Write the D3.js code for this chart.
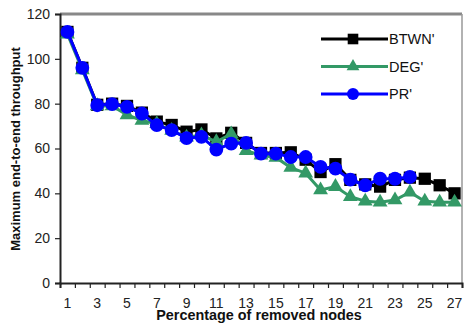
<!DOCTYPE html>
<html>
<head>
<meta charset="utf-8">
<script src="https://cdn.jsdelivr.net/npm/d3@7"></script>
<style>
  body { margin: 0; background: #fff; }
  svg { display: block; font-family: "Liberation Sans", Arial, sans-serif; }
</style>
</head>
<body>
<svg width="464" height="323"></svg>
<script>
// categories (percentage of removed nodes)
var categories = d3.range(1, 28);

// series values
var btwnValues = [112, 96, 79.5, 80, 79, 76, 72, 70.5, 67.5, 68.5, 64.5, 67, 62.5, 58, 58, 58.3, 55, 49.5, 53, 46, 44, 43, 46, 47, 46.5, 43.6, 40];
var degValues  = [111, 95, 79, 79, 75, 72.5, 71, 68, 65, 66, 63, 66.5, 59, 57, 56, 51.5, 49, 41.5, 43, 38.5, 36.5, 36, 37, 40.5, 36.5, 36, 36];
var prValues   = [112, 96, 79.3, 79.8, 78.6, 75.6, 70.4, 68.2, 64.6, 65.2, 59.5, 62.2, 62.5, 57.7, 57.7, 56.2, 56.2, 51.8, 51, 46.1, 43.6, 46.5, 46.5, 47.3];

var yTicks = [0, 20, 40, 60, 80, 100, 120];
var seriesNames = ["BTWN'", "DEG'", "PR'"];

var svg = d3.select("svg");
var plotLeft = 60, plotRight = 462, plotTop = 14, plotBottom = 283;

var x = d3.scaleBand().domain(categories).range([plotLeft, plotRight]);
var xEdge = d3.scaleLinear().domain([0, 27]).range([plotLeft, plotRight]);
var y = d3.scaleLinear().domain([0, 120]).range([plotBottom, plotTop]);

// frame: grey top and right
svg.append("line").attr("x1", plotLeft).attr("x2", plotRight).attr("y1", plotTop).attr("y2", plotTop)
    .attr("stroke", "#888").attr("stroke-width", 3);
svg.append("line").attr("x1", plotRight).attr("x2", plotRight).attr("y1", plotTop).attr("y2", plotBottom)
    .attr("stroke", "#999").attr("stroke-width", 1.5);

// y axis
var yAxis = svg.append("g").attr("transform", "translate(" + plotLeft + ",0)")
    .call(d3.axisLeft(y).tickValues(yTicks).tickSize(5).tickPadding(5));
yAxis.select(".domain").attr("stroke", "#222").attr("stroke-width", 2);
yAxis.selectAll(".tick line").attr("stroke", "#222").attr("stroke-width", 1.2);
yAxis.selectAll("text").attr("font-size", 14).attr("fill", "#222")
    .attr("font-family", "Liberation Sans, Arial, sans-serif");

// x axis tick marks at band edges
var xTickAxis = svg.append("g").attr("transform", "translate(0," + plotBottom + ")")
    .call(d3.axisBottom(xEdge).tickValues(d3.range(0, 28)).tickSize(5).tickFormat(""));
xTickAxis.select(".domain").attr("stroke", "#222").attr("stroke-width", 2);
xTickAxis.selectAll(".tick line").attr("stroke", "#222").attr("stroke-width", 1.2);

// x tick labels at band centres
var xLabelAxis = svg.append("g").attr("transform", "translate(0," + plotBottom + ")")
    .call(d3.axisBottom(x).tickValues(categories.filter(function(d) { return d % 2 == 1; }))
        .tickSize(0).tickPadding(15));
xLabelAxis.select(".domain").remove();
xLabelAxis.selectAll("text").attr("font-size", 14).attr("fill", "#222")
    .attr("font-family", "Liberation Sans, Arial, sans-serif");

// axis titles
svg.append("text")
    .attr("transform", "translate(20,149) rotate(-90)")
    .attr("text-anchor", "middle")
    .attr("font-size", 13).attr("font-weight", "bold").attr("fill", "#111")
    .text("Maximum end-to-end throughput");
svg.append("text")
    .attr("x", 259).attr("y", 320)
    .attr("text-anchor", "middle")
    .attr("font-size", 14.4).attr("font-weight", "bold").attr("fill", "#111")
    .text("Percentage of removed nodes");

var cx = function(d, i) { return x(categories[i]) + x.bandwidth() / 2; };
var line = d3.line().x(cx).y(function(d) { return y(d); });

var series = [
  { name: seriesNames[0], values: btwnValues, color: "#000000", shape: d3.symbolSquare, size: 150 },
  { name: seriesNames[1], values: degValues,  color: "#339966", shape: d3.symbolTriangle, size: 95 },
  { name: seriesNames[2], values: prValues,   color: "#0000ff", shape: d3.symbolCircle, size: 150 }
];

series.forEach(function(s) {
  svg.append("path").datum(s.values)
      .attr("d", line)
      .attr("fill", "none")
      .attr("stroke", s.color)
      .attr("stroke-width", 3);
  svg.append("g").selectAll("path")
      .data(s.values)
      .enter()
      .append("path")
      .attr("transform", function(d, i) { return "translate(" + cx(d, i) + "," + y(d) + ")"; })
      .attr("d", d3.symbol().type(s.shape).size(s.size))
      .attr("fill", s.color);
});

// legend
var legend = svg.append("g");
series.forEach(function(s, i) {
  var ly = 39 + i * 27.5;
  legend.append("line").attr("x1", 321).attr("x2", 388).attr("y1", ly).attr("y2", ly)
      .attr("stroke", s.color).attr("stroke-width", 3);
  legend.append("path")
      .attr("transform", "translate(353," + ly + ")")
      .attr("d", d3.symbol().type(s.shape).size(s.size * 0.75))
      .attr("fill", s.color);
  legend.append("text").attr("x", 389).attr("y", ly + 5)
      .attr("font-size", 14.5).attr("fill", "#111")
      .text(s.name);
});
</script>
</body>
</html>
